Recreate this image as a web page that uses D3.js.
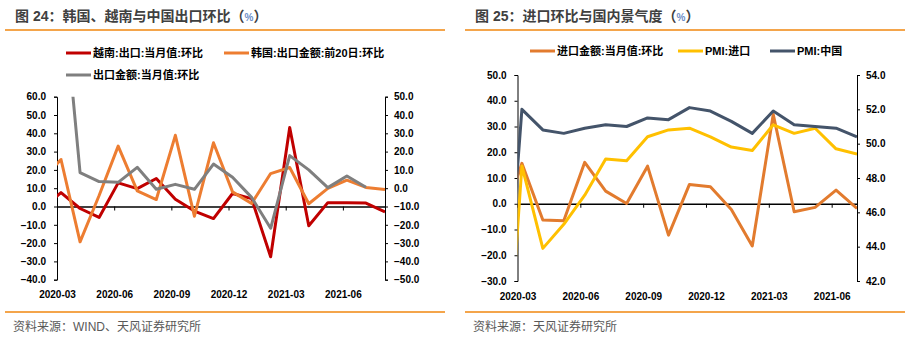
<!DOCTYPE html>
<html lang="zh">
<head>
<meta charset="UTF-8">
<title>出口与进口环比</title>
<style>
  html, body { margin: 0; padding: 0; background: #fff; overflow: hidden; }
  svg { display: block; font-family: "Liberation Sans", "Noto Sans CJK SC", sans-serif; }
  .axis text { font-size: 10px; font-weight: bold; fill: #000; }
  .axis path, .axis line { stroke: #000; }
</style>
</head>
<body>
<div id="container"></div>
<script src="https://cdnjs.cloudflare.com/ajax/libs/d3/7.8.5/d3.min.js"></script>
<script>
// month index: -1 = 2020-02, 0 = 2020-03, ...
var tickIdx    = [0, 3, 6, 9, 12, 15];
var tickLabels = ["2020-03", "2020-06", "2020-09", "2020-12", "2021-03", "2021-06"];

// left panel, 2020-02 .. 2021-08
var vnExport = [-1.3, 7.6, -1.1, -6.0, 12.9, 9.8, 15.3, 4.0, -2.5, -6.6, 7.1, 4.3, -27.5, 43.2, -10.5, 2.1, 2.0, 1.9, -3.0];
var krExport = [14.4, 25.7, -19.3, 6.0, 33.0, 8.5, 3.8, 38.9, -5.3, 34.8, 8.0, 1.6, 18.0, 21.3, 1.5, 9.9, 14.4, 10.4, 9.3];
var cnExport = [null, 120.0, 8.5, 3.6, 3.2, 11.4, -0.6, 2.1, -0.6, 13.2, 6.0, -5.0, -21.9, 17.8, 10.0, 0.3, 6.7, 0.5, null];

// right panel, 2020-02 .. 2021-07
var importMoM = [-9.0, 15.7, -6.3, -6.6, 16.1, 4.9, 0.1, 14.6, -12.2, 7.5, 6.6, -2.2, -16.4, 34.7, -3.1, -1.4, 5.3, -1.8];
var pmiImport = [31.0, 48.7, 43.9, 45.3, 47.0, 49.1, 49.0, 50.4, 50.8, 50.9, 50.4, 49.8, 49.6, 51.1, 50.6, 50.9, 49.7, 49.4];
var pmiChina  = [35.7, 52.0, 50.8, 50.6, 50.9, 51.1, 51.0, 51.5, 51.4, 52.1, 51.9, 51.3, 50.6, 51.9, 51.1, 51.0, 50.9, 50.4];

var svg = d3.select('#container').append('svg')
  .attr('width', 918)
  .attr('height', 344);

var fmt = d3.format('.1f');

function panel(o) {
  var g = svg.append('g');

  // title + rules
  var t = g.append('text').attr('x', o.left + 10).attr('y', 21)
    .attr('font-size', 14).attr('font-weight', 'bold').attr('fill', '#404040');
  t.append('tspan').text(o.title);
  t.append('tspan').attr('font-size', 10).attr('fill', '#6d8fc8').text('%');
  t.append('tspan').text('）');
  g.append('line').attr('x1', o.left).attr('x2', o.left + 440).attr('y1', 30).attr('y2', 30)
    .attr('stroke', '#F0870F').attr('stroke-width', 1.3);
  g.append('line').attr('x1', o.left).attr('x2', o.left + 440).attr('y1', 312).attr('y2', 312)
    .attr('stroke', '#F0870F').attr('stroke-width', 1.3);
  g.append('text').attr('x', o.left + 8).attr('y', 331)
    .attr('font-size', 12).attr('fill', '#595959').text(o.source);

  var x = d3.scaleLinear().domain([-0.21, o.lastIdx]).range([o.x0, o.x1]);
  var tx = x.copy().domain(x.domain().map(function(d) { return d + 0.21; }));
  var yL = d3.scaleLinear().domain(o.leftDomain).range([o.y1, o.y0]);
  var yR = d3.scaleLinear().domain(o.rightDomain).range([o.y1, o.y0]);

  // axes
  var la = g.append('g').attr('class', 'axis').attr('transform', 'translate(' + o.x0 + ',0)')
    .call(d3.axisLeft(yL).tickValues(d3.range(o.leftDomain[0], o.leftDomain[1] + 1, o.leftStep))
      .tickFormat(fmt).tickSize(3).tickSizeOuter(3).tickPadding(8));
  la.selectAll('text').attr('fill', function(d) { return d < 0 ? '#FF0000' : '#000'; });

  var ra = g.append('g').attr('class', 'axis').attr('transform', 'translate(' + o.x1 + ',0)')
    .call(d3.axisRight(yR).tickValues(d3.range(o.rightDomain[0], o.rightDomain[1] + 0.01, o.rightStep))
      .tickFormat(fmt).tickSize(3).tickSizeOuter(3).tickPadding(6));
  ra.selectAll('text').attr('fill', function(d) { return d < 0 ? '#FF0000' : '#000'; });

  var za = g.append('g').attr('class', 'axis').attr('transform', 'translate(0,' + yL(0) + ')')
    .call(d3.axisBottom(tx).tickValues(tickIdx).tickSize(4).tickSizeOuter(0).tickFormat(''));
  za.select('.domain').attr('stroke', '#404040').attr('stroke-width', 1.5);

  var xa = g.append('g').attr('class', 'axis').attr('transform', 'translate(0,' + o.labelY + ')')
    .call(d3.axisBottom(tx).tickValues(tickIdx).tickSize(0).tickPadding(0)
      .tickFormat(function(d, i) { return tickLabels[i]; }));
  xa.select('.domain').remove();
  xa.selectAll('text').attr('dy', '0.35em');

  // series
  var clipId = 'clip' + o.left;
  g.append('clipPath').attr('id', clipId).append('rect')
    .attr('x', o.x0).attr('y', o.y0).attr('width', o.x1 - o.x0).attr('height', o.y1 - o.y0);
  var plot = g.append('g').attr('clip-path', 'url(#' + clipId + ')');

  o.series.forEach(function(s) {
    var y = s.axis === 'right' ? yR : yL;
    var line = d3.line()
      .defined(function(d) { return d != null; })
      .x(function(d, i) { return x(i - 1); })
      .y(function(d) { return y(d); });
    plot.append('path').datum(s.values)
      .attr('d', line)
      .attr('fill', 'none')
      .attr('stroke', s.color)
      .attr('stroke-width', 3)
      .attr('stroke-linejoin', 'round');
  });

  // legend
  o.legend.forEach(function(l) {
    var s = o.series[l.s];
    g.append('line').attr('x1', l.x).attr('x2', l.x + 25).attr('y1', l.y).attr('y2', l.y)
      .attr('stroke', s.color).attr('stroke-width', 3);
    g.append('text').attr('x', l.x + 27).attr('y', l.y).attr('dy', '0.35em')
      .attr('font-size', 11).attr('font-weight', 'bold').attr('fill', '#000').text(s.name);
  });
}

panel({
  left: 5,
  title: '图 24：韩国、越南与中国出口环比（',
  source: '资料来源：WIND、天风证券研究所',
  x0: 57, x1: 385, lastIdx: 17,
  y0: 96.7, y1: 279.7,
  leftDomain: [-40, 60], leftStep: 10,
  rightDomain: [-50, 50], rightStep: 10,
  labelY: 294,
  series: [
    { name: '越南:出口:当月值:环比', values: vnExport, color: '#C00000', axis: 'left' },
    { name: '韩国:出口金额:前20日:环比', values: krExport, color: '#ED7D31', axis: 'left' },
    { name: '出口金额:当月值:环比', values: cnExport, color: '#7F7F7F', axis: 'right' }
  ],
  legend: [
    { s: 0, x: 66, y: 53 },
    { s: 1, x: 224, y: 53 },
    { s: 2, x: 66, y: 75 }
  ]
});

panel({
  left: 465,
  title: '图 25：进口环比与国内景气度（',
  source: '资料来源：天风证券研究所',
  x0: 517.5, x1: 857, lastIdx: 16,
  y0: 75, y1: 281,
  leftDomain: [-30, 50], leftStep: 10,
  rightDomain: [42, 54], rightStep: 2,
  labelY: 296,
  series: [
    { name: '进口金额:当月值:环比', values: importMoM, color: '#E27B2E', axis: 'left' },
    { name: 'PMI:进口', values: pmiImport, color: '#FFC000', axis: 'right' },
    { name: 'PMI:中国', values: pmiChina, color: '#44546A', axis: 'right' }
  ],
  legend: [
    { s: 0, x: 530, y: 51 },
    { s: 1, x: 678, y: 51 },
    { s: 2, x: 770, y: 51 }
  ]
});
</script>
</body>
</html>
